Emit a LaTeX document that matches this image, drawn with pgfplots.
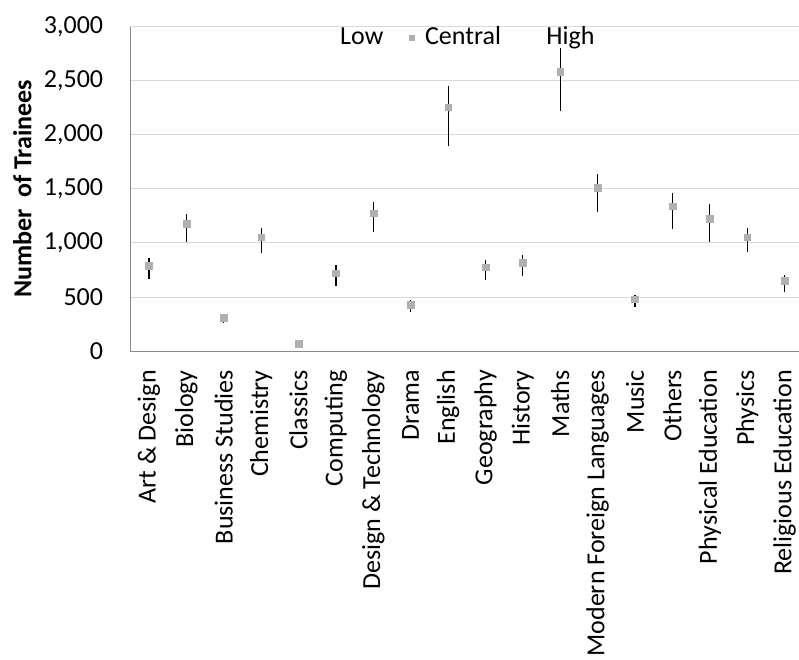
\documentclass[border=0pt]{standalone}
\usepackage{pgfplots}
\pgfplotsset{compat=1.18}
\usepackage{pgfplotstable}
\usepackage{fontspec}
\setmainfont{Carlito}
\pgfplotstableread{
x low central high
0 670 790 858
1 1012 1176 1271
2 256 308 343
3 910 1053 1136
4 58 65 72
5 605 719 793
6 1099 1275 1383
7 364 429 472
8 1898 2256 2454
9 657 775 843
10 694 815 886
11 2222 2583 2799
12 1287 1512 1639
13 407 479 521
14 1127 1340 1466
15 1006 1225 1361
16 917 1053 1136
17 549 648 704
}\data
\definecolor{mk}{HTML}{B0B0B0}
\definecolor{gridc}{HTML}{D9D9D9}
\definecolor{axc}{HTML}{8C8C8C}
\newcommand\fs{\fontsize{26pt}{31pt}\selectfont}
\begin{document}
\fs
\begin{tikzpicture}
\useasboundingbox (-130.3pt,-308pt) rectangle (668.7pt,351pt);
\begin{axis}[
  at={(0,0)}, anchor=south west,
  scale only axis,
  width=673pt, height=324.3pt,
  xmin=-0.5, xmax=17.5,
  ymin=0, ymax=3000,
  ytick={0,500,...,3000},
  xtick={0,...,17},
  xticklabels={Art \& Design,Biology,Business Studies,Chemistry,Classics,Computing,Design \& Technology,Drama,English,Geography,History,Maths,Modern Foreign Languages,Music,Others,Physical Education,Physics,Religious Education},
  axis lines*=left,
  axis line style={draw=axc, line width=0.9pt, -},
  major tick length=0pt,
  tick style={draw=none},
  ymajorgrids,
  grid style={draw=gridc, line width=0.9pt},
  /pgf/number format/assume math mode=true,
  /pgf/number format/.cd, 1000 sep={,}, /pgfplots/.cd,
  yticklabel style={font=\fs, inner sep=0pt, anchor=east},
  yticklabel shift=27pt,
  xticklabel style={font=\fs, rotate=90, anchor=east, inner sep=0pt},
  xticklabel shift=19pt,
  ylabel={\bfseries Number\ \ of Trainees},
  every axis y label/.style={at={(axis description cs:-0.1605,0.5)}, rotate=90, anchor=center, font=\fs},
  legend columns=3,
  legend style={draw=none, fill=none, inner sep=0pt, at={(axis description cs:0.296,1.0)}, anchor=north west,
    font=\fs, nodes={inner sep=0pt},
    /tikz/column 1/.style={column sep=10.5pt},
    /tikz/column 2/.style={column sep=26.3pt},
    /tikz/column 3/.style={column sep=10.5pt},
    /tikz/column 4/.style={column sep=34.9pt},
    /tikz/column 5/.style={column sep=10.5pt}},
  clip=false,
]
\addlegendimage{empty legend}
\addlegendentry{Low}
\addlegendimage{only marks, mark=square*, mark options={draw=mk, fill=mk}, mark size=2.5pt}
\addlegendentry{Central}
\addlegendimage{empty legend}
\addlegendentry{High}
\addplot[only marks, mark=none, forget plot,
  error bars/.cd, y dir=both, y explicit, error mark=none,
  error bar style={draw=black, line width=1.15pt}]
  table[x=x, y=central, y error plus expr=\thisrow{high}-\thisrow{central}, y error minus expr=\thisrow{central}-\thisrow{low}] {\data};
\addplot[only marks, mark=square*, mark size=3.4pt, mark options={draw=mk, fill=mk}, forget plot]
  table[x=x, y=central] {\data};
\end{axis}
\end{tikzpicture}
\end{document}
